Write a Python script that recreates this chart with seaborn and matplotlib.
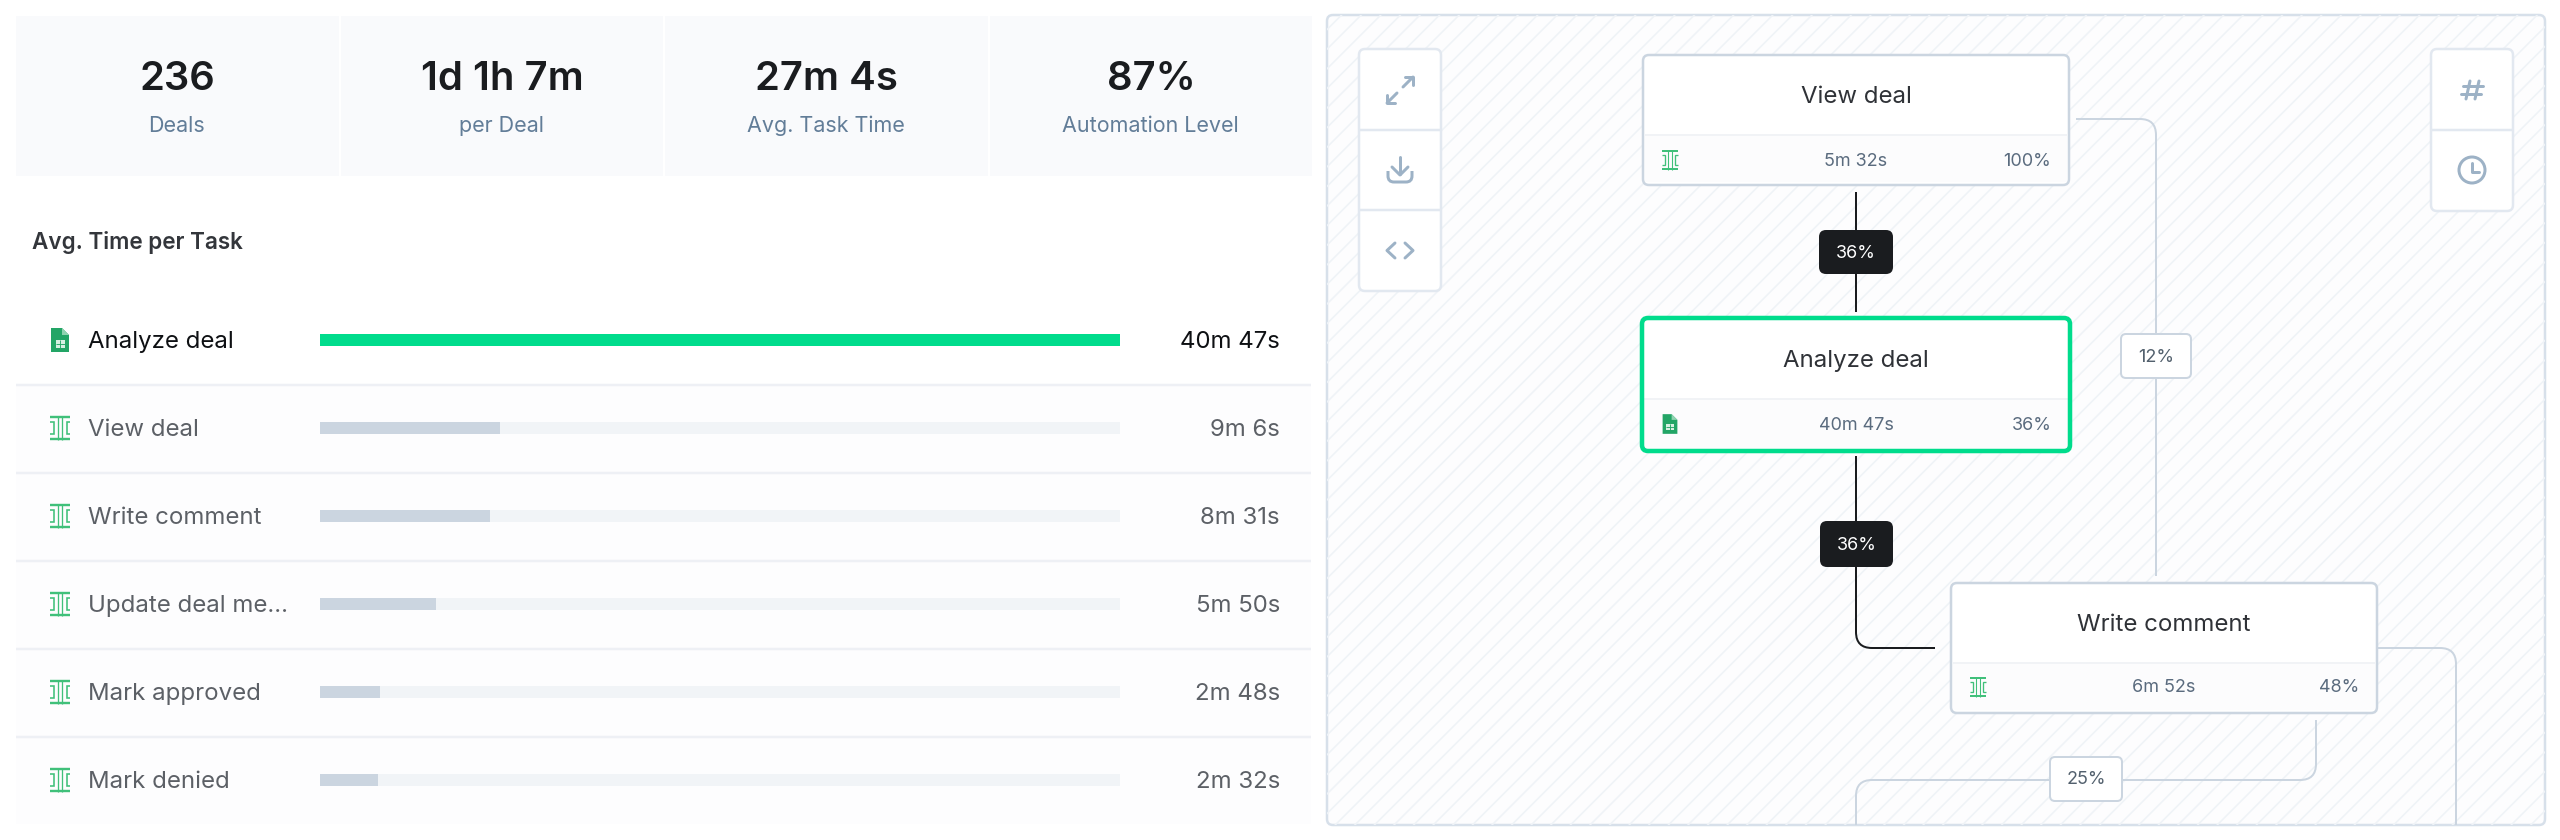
import numpy as np
import pandas as pd
import seaborn as sns
import matplotlib.pyplot as plt
from matplotlib.patches import FancyBboxPatch, Rectangle, Circle, Polygon, PathPatch
from matplotlib.path import Path
from matplotlib.collections import LineCollection

# data
kpi_values = ['236', '1d 1h 7m', '27m 4s', '87%']
kpi_labels = ['Deals', 'per Deal', 'Avg. Task Time', 'Automation Level']

tasks = ['Analyze deal', 'View deal', 'Write comment', 'Update deal me...', 'Mark approved', 'Mark denied']
task_share = [100, 22.5, 21.25, 14.5, 7.5, 7.25]
task_track = [100, 100, 100, 100, 100, 100]
task_times = ['40m 47s', '9m 6s', '8m 31s', '5m 50s', '2m 48s', '2m 32s']

node_names = ['View deal', 'Analyze deal', 'Write comment']
node_times = ['5m 32s', '40m 47s', '6m 52s']
node_shares = ['100%', '36%', '48%']

edge_labels = ['36%', '36%', '12%', '25%']

GREEN = '#00dc8c'
INK = '#1a1c1f'
LINE = '#cbd5e0'
ICON = '#9db2c6'
ICON_GREEN = '#40c07a'
DOC_GREEN = '#23a566'


def px(v):
    return v * 0.72


sns.set_theme(style='white')
plt.rcParams['font.family'] = ['Inter', 'DejaVu Sans']

fig = plt.figure(figsize=(25.6, 8.4), dpi=100, facecolor='white')
bg = fig.add_axes([0, 0, 1, 1])
bg.set_xlim(0, 2560)
bg.set_ylim(840, 0)
bg.axis('off')


def box(x0, y0, x1, y1, r=4, fc='white', ec='none', lw=0, z=2):
    p = FancyBboxPatch((x0, y0), x1 - x0, y1 - y0, boxstyle='round,pad=0,rounding_size=%s' % r,
                       fc=fc, ec=ec, lw=px(lw), zorder=z, mutation_aspect=1)
    bg.add_patch(p)
    return p


def seg(pts, color=ICON, lw=3, z=5, cap='round'):
    xs, ys = zip(*pts)
    bg.plot(xs, ys, color=color, lw=px(lw), zorder=z, solid_capstyle=cap, solid_joinstyle='miter' if cap == 'butt' else 'round')


def txt(x, y, s, size, color, ha='center', weight='normal', z=6):
    # text sits a little high with va=center
    return bg.text(x, y + 2, s, fontsize=px(size), color=color, ha=ha, va='center', fontweight=weight, zorder=z)


def elbow(pts, color, lw, clip, r=16, z=3):
    # polyline with rounded corners
    verts = [pts[0]]
    codes = [Path.MOVETO]
    for i in range(1, len(pts) - 1):
        a, b, c = map(np.array, (pts[i - 1], pts[i], pts[i + 1]))
        d1 = (b - a) / np.linalg.norm(b - a)
        d2 = (c - b) / np.linalg.norm(c - b)
        verts += [tuple(b - d1 * r), tuple(b), tuple(b + d2 * r)]
        codes += [Path.LINETO, Path.CURVE3, Path.CURVE3]
    verts.append(pts[-1])
    codes.append(Path.LINETO)
    p = PathPatch(Path(verts, codes), fc='none', ec=color, lw=px(lw), zorder=z, capstyle='butt')
    bg.add_patch(p)
    p.set_clip_path(clip)


def split_icon(cx, cy, s=1.0):
    w, h = 10 * s, 12 * s
    seg([(cx - w, cy - h + 1), (cx + w, cy - h + 1)], ICON_GREEN, 2.4 * s, cap='butt')
    seg([(cx - w, cy + h - 1), (cx + w, cy + h - 1)], ICON_GREEN, 2.4 * s, cap='butt')
    seg([(cx - 2.2 * s, cy - h), (cx - 2.2 * s, cy + h)], ICON_GREEN, 1.3 * s, cap='butt')
    seg([(cx + 2.2 * s, cy - h), (cx + 2.2 * s, cy + h)], ICON_GREEN, 1.3 * s, cap='butt')
    seg([(cx - w, cy - 6 * s), (cx - 6.5 * s, cy - 6 * s), (cx - 6.5 * s, cy + 6 * s), (cx - w, cy + 6 * s)], ICON_GREEN, 1.6 * s, cap='butt')
    seg([(cx + w, cy - 6 * s), (cx + 6.5 * s, cy - 6 * s), (cx + 6.5 * s, cy + 6 * s), (cx + w, cy + 6 * s)], ICON_GREEN, 1.6 * s, cap='butt')


def doc_icon(cx, cy, s=1.0):
    w, h = 9 * s, 12 * s
    bg.add_patch(Polygon([(cx - w, cy - h), (cx + 2 * s, cy - h), (cx + w, cy - h + 7 * s), (cx + w, cy + h), (cx - w, cy + h)],
                         fc=DOC_GREEN, ec='none', zorder=5))
    bg.add_patch(Polygon([(cx + 2 * s, cy - h), (cx + w, cy - h + 7 * s), (cx + 2 * s, cy - h + 7 * s)],
                         fc='#8fd3b0', ec='none', zorder=6))
    bg.add_patch(Rectangle((cx - 4.5 * s, cy), 9 * s, 7.5 * s, fc='#d7f0e2', ec='none', zorder=6))
    seg([(cx - 4.5 * s, cy + 3.7 * s), (cx + 4.5 * s, cy + 3.7 * s)], DOC_GREEN, 0.9, z=7, cap='butt')
    seg([(cx, cy), (cx, cy + 7.5 * s)], DOC_GREEN, 0.9, z=7, cap='butt')


# KPI cards
for i in range(4):
    x0 = 16 + i * 324.5
    bg.add_patch(Rectangle((x0, 16), 322.5, 160, fc='#f9fafc', ec='none', zorder=1))
    txt(x0 + 161.5, 77, kpi_values[i], 40, INK, weight='semibold')
    txt(x0 + 161, 124, kpi_labels[i], 21.5, '#627d98')

txt(32, 240, 'Avg. Time per Task', 22.5, '#33363b', ha='left', weight='semibold')

# task rows
bg.add_patch(Rectangle((16, 385), 1295, 439, fc='#fdfdfe', ec='none', zorder=1))
for i, name in enumerate(tasks):
    y = 340 + 88 * i
    active = i == 0
    col = '#0e1013' if active else '#5c6066'
    txt(88, y, name, 24, col, ha='left')
    txt(1280, y, task_times[i], 24, col, ha='right')
    if active:
        doc_icon(60, y)
    else:
        split_icon(60, y)
    if i < len(tasks) - 1:
        bg.plot([16, 1311], [y + 45, y + 45], color='#eef0f5', lw=px(2.5), zorder=2, solid_capstyle='butt')

df = pd.DataFrame({'task': tasks, 'share': task_share, 'track': task_track})
ax = fig.add_axes([320 / 2560, 1 - 824 / 840, 800 / 2560, 528 / 840])
ax.patch.set_alpha(0)
sns.barplot(data=df, y='task', x='track', color='#f1f4f7', saturation=1, width=12 / 88, linewidth=0, ax=ax)
sns.barplot(data=df, y='task', x='share', hue='task', palette=[GREEN] + ['#cbd5e0'] * 5, saturation=1,
            width=12 / 88, linewidth=0, legend=False, ax=ax)
ax.set_xlim(0, 100)
ax.set_ylim(5.5, -0.5)
ax.axis('off')

# flow panel
panel = box(1327, 15, 2545, 825, r=6, fc='#fdfdfe', ec='#d7e0ea', lw=2.5, z=1)
hatch = [[(x, 10), (x - 830, 840)] for x in np.arange(1327, 3400, 19.6)]
lc = LineCollection(hatch, colors='#eff3f7', linewidths=px(1.6), zorder=1.5)
bg.add_collection(lc)
lc.set_clip_path(panel)

# toolbars
box(1359, 49, 1441, 291, r=6, fc='white', ec='#e2e8f0', lw=2.5, z=2)
box(2431, 49, 2513, 211, r=6, fc='white', ec='#e2e8f0', lw=2.5, z=2)
for yy, (x0, x1) in [(130, (1359, 1441)), (210, (1359, 1441)), (130, (2431, 2513))]:
    bg.plot([x0, x1], [yy, yy], color='#e2e8f0', lw=px(2.5), zorder=3, solid_capstyle='butt')

seg([(1403, 87), (1413, 77)])
seg([(1405, 77), (1413, 77), (1413, 85)])
seg([(1397, 93), (1387, 103)])
seg([(1387, 95), (1387, 103), (1395, 103)])
seg([(1400, 157), (1400, 174)])
seg([(1392, 167), (1400, 175), (1408, 167)])
elbow([(1388, 171), (1388, 182), (1412, 182), (1412, 171)], ICON, 3, panel, r=6, z=5)
seg([(1395, 243), (1387, 250.5), (1395, 258)])
seg([(1405, 243), (1413, 250.5), (1405, 258)])
seg([(2470, 81), (2466, 99)])
seg([(2479, 81), (2475, 99)])
seg([(2463, 86), (2483, 86)])
seg([(2461, 94), (2481, 94)])
bg.add_patch(Circle((2472, 170), 13, fc='none', ec=ICON, lw=px(3), zorder=5))
seg([(2472, 163), (2472, 172), (2479, 172)])

# connectors
elbow([(1856, 192), (1856, 312)], INK, 2, panel)
elbow([(1856, 456), (1856, 648), (1935, 648)], INK, 2, panel)
elbow([(2076, 119), (2156, 119), (2156, 576)], LINE, 2, panel)
elbow([(2377, 648), (2456, 648), (2456, 830)], LINE, 2, panel)
elbow([(2316, 720), (2316, 780), (1856, 780), (1856, 830)], LINE, 2, panel)

# edge badges
badges = [(1819, 230, 1893, 274), (1820, 521, 1893, 567), (2121, 334, 2191, 378), (2050, 757, 2122, 801)]
for j, (x0, y0, x1, y1) in enumerate(badges):
    dark = j < 2
    box(x0, y0, x1, y1, r=7 if dark else 5, fc=INK if dark else 'white', ec='none' if dark else LINE, lw=0 if dark else 2, z=4)
    txt((x0 + x1) / 2, (y0 + y1) / 2 - 1, edge_labels[j], 18, 'white' if dark else '#52606d')

# nodes
nodes = [(1643, 55, 2069, 185, 135), (1642, 318, 2070, 451, 399), (1951, 583, 2377, 713, 663)]
title_y = [95, 359, 623]
foot_y = [159, 423, 686]
for k, (x0, y0, x1, y1, ymid) in enumerate(nodes):
    sel = k == 1
    box(x0, y0, x1, y1, r=6, fc='white', ec='none', z=4)
    bg.add_patch(Rectangle((x0 + 2, ymid), x1 - x0 - 4, y1 - ymid - 3, fc='#fcfcfd', ec='none', zorder=4.1))
    bg.plot([x0 + 2, x1 - 2], [ymid, ymid], color='#f1f3f6', lw=px(2), zorder=4.2, solid_capstyle='butt')
    box(x0, y0, x1, y1, r=6, fc='none', ec=GREEN if sel else LINE, lw=4.5 if sel else 2.5, z=4.5)
    cx = (x0 + x1) / 2
    txt(cx, title_y[k], node_names[k], 24, '#2f3237')
    txt(cx, foot_y[k], node_times[k], 18, '#5a6b7e')
    txt(x1 - 18, foot_y[k], node_shares[k], 18, '#5a6b7e', ha='right')
    if sel:
        doc_icon(x0 + 28, foot_y[k] + 1, 0.82)
    else:
        split_icon(x0 + 27, foot_y[k] + 1, 0.83)

fig.savefig('out.png', dpi=100, facecolor='white')
